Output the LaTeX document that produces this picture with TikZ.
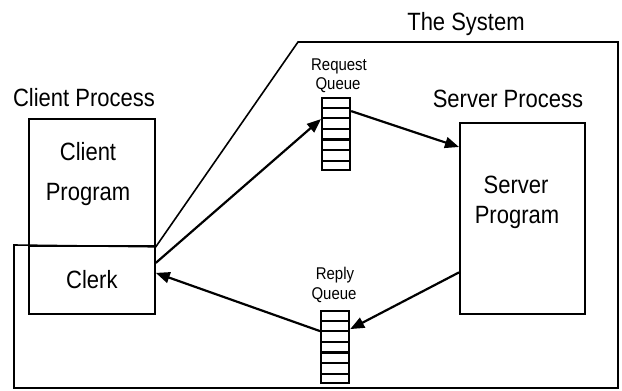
\documentclass[tikz,border=0pt]{standalone}
\usepackage{fontspec}
\setmainfont{Liberation Sans}[FakeStretch=0.88]
\usetikzlibrary{arrows.meta,calc}
\begin{document}
\begin{tikzpicture}[x=1pt, y=-1pt,
  box/.style={draw, line width=1.8pt, inner sep=0pt, anchor=north west},
  queue/.style={draw, line width=2.2pt, inner sep=0pt, minimum width=28pt, minimum height=72pt, anchor=north west},
  big/.style={inner sep=0pt, anchor=base, font=\fontsize{25}{28}\selectfont},
  small/.style={inner sep=0pt, anchor=base, font=\fontsize{17}{19}\selectfont},
  flow/.style={line width=2.2pt, -{Triangle[length=14pt,width=11pt]}}]
\useasboundingbox (0,0) rectangle (622,391);
\node[box, minimum width=126pt, minimum height=127pt] (cprog) at (28,118) {};
\node[box, minimum width=126pt, minimum height=68pt, font=\fontsize{25}{28}\selectfont] (clerk) at (28,245) {Clerk};
\node[box, minimum width=125pt, minimum height=191pt] (sprog) at (459,122) {};
\node[queue] (reqq) at (321,97) {};
\node[queue] (repq) at (320,310) {};
\foreach \q in {reqq,repq}
  \foreach \k in {1,...,6}
    \draw[line width=2.2pt] ($(\q.north west)!\k/7!(\q.south west)$) -- ($(\q.north east)!\k/7!(\q.south east)$);
\draw[line width=1.6pt] (14,388) -- (14,245) -- (cprog.south east) -- (298,42) -- (618,42) -- (618,388) -- cycle;
\node[big] (systitle) at (466,30) {The System};
\node[big] (cproc) at (84,106) {Client Process};
\node[big] (cprogtop) at (88,160) {Client};
\node[big] (cprogbot) at (88,200) {Program};
\node[big] (sproc) at (508,107) {Server Process};
\node[big] (sprogtop) at (516,193) {Server};
\node[big] (sprogbot) at (517,223) {Program};
\node[small] (reqtop) at (339,70) {Request};
\node[small] (reqbot) at (338,89) {Queue};
\node[small] (reptop) at (335,279) {Reply};
\node[small] (repbot) at (334,299) {Queue};
\draw[flow] ([yshift=17pt]clerk.east) -- ([yshift=15pt]reqq.west);
\draw[flow] ([yshift=23pt]reqq.east) -- ([yshift=-25pt]sprog.north west);
\draw[flow] ([yshift=-54pt]sprog.west) -- ([yshift=18pt]repq.east);
\draw[flow] ([yshift=16pt]repq.west) -- ([yshift=7pt]clerk.east);
\end{tikzpicture}
\end{document}
